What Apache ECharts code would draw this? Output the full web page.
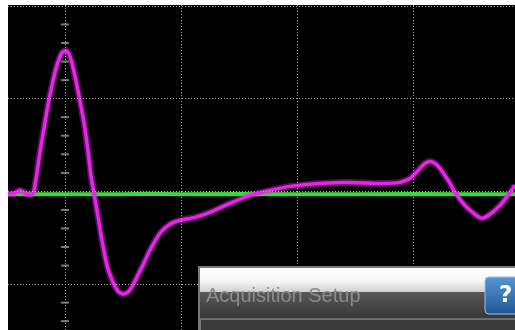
<!DOCTYPE html>
<html><head><meta charset="utf-8">
<script src="https://cdn.jsdelivr.net/npm/echarts@6/dist/echarts.min.js"></script>
<style>html,body{margin:0;padding:0;background:#000}#c{width:515px;height:330px}</style>
</head><body><div id="c"></div>
<script>
// time in divisions, voltage in divisions
const ch2Time = [-0.491,-0.440,-0.388,-0.336,-0.293,-0.267,-0.241,-0.216,-0.181,-0.147,-0.112,-0.078,-0.043,-0.017,0.009,0.034,0.060,0.095,0.129,0.164,0.198,0.224,0.250,0.276,0.319,0.362,0.414,0.457,0.500,0.543,0.586,0.629,0.672,0.733,0.819,0.905,0.991,1.121,1.250,1.422,1.595,1.767,1.940,2.198,2.457,2.716,2.888,2.974,3.060,3.103,3.147,3.190,3.233,3.319,3.362,3.448,3.534,3.595,3.664,3.750,3.819,3.879];
const ch2Volt = [-0.032,-0.022,0.011,-0.022,-0.043,0.011,0.204,0.419,0.677,0.925,1.140,1.323,1.452,1.505,1.516,1.484,1.387,1.194,0.978,0.742,0.441,0.172,-0.022,-0.204,-0.527,-0.796,-0.978,-1.075,-1.108,-1.086,-1.011,-0.903,-0.796,-0.634,-0.452,-0.355,-0.312,-0.280,-0.226,-0.129,-0.043,0.011,0.054,0.086,0.097,0.086,0.097,0.140,0.247,0.301,0.323,0.301,0.247,0.086,-0.011,-0.151,-0.247,-0.290,-0.247,-0.151,-0.043,0.065];
const ch1Time = [-0.491,0.5,0.7,1.0,1.5,2.0,2.5,3.0,3.5,3.879];
const ch1Volt = [-0.030,-0.030,-0.025,-0.030,-0.028,-0.030,-0.030,-0.028,-0.030,-0.030];
const gridX = [0,1,2,3];
const gridY = [-1,0,1,2];
const dialogTitle = 'Acquisition Setup';

const ch2 = ch2Time.map((t,i)=>[t,ch2Volt[i]]);
const ch1 = ch1Time.map((t,i)=>[t,ch1Volt[i]]);
const ticks = [];
for (let k=-7;k<=10;k++){ if(k%5!==0) ticks.push([0,k*0.2]); }

const chart = echarts.init(document.getElementById('c'));
const dot = {color:'#aaa',width:1,type:[1,2]};
const gridLines = gridX.map(v=>({xAxis:v})).concat(gridY.map(v=>({yAxis:v})));
chart.setOption({
  backgroundColor:'#000',
  animation:false,
  grid:{left:8,right:0,top:5,bottom:0},
  xAxis:{type:'value',min:-0.491,max:3.879,axisLine:{show:false},axisTick:{show:false},axisLabel:{show:false},splitLine:{show:false}},
  yAxis:{type:'value',min:-1.495,max:2.01,axisLine:{show:false},axisTick:{show:false},axisLabel:{show:false},splitLine:{show:false}},
  series:[
    {type:'scatter',data:ticks,symbol:'rect',symbolSize:[8,2],itemStyle:{color:'#9a9a9a'},silent:true,z:1,
     markLine:{silent:true,symbol:'none',label:{show:false},lineStyle:dot,data:gridLines,animation:false}},
    {type:'line',data:ch1,symbol:'none',lineStyle:{color:'#3cd83c',width:4},z:2},
    {type:'line',data:ch2,symbol:'none',smooth:0.2,lineStyle:{color:'#e030e0',width:7,opacity:0.35},z:3},
    {type:'line',data:ch2,symbol:'none',smooth:0.2,lineStyle:{color:'#e626e6',width:3.5},z:4}
  ],
  graphic:[
    {type:'rect',shape:{x:0,y:0,width:515,height:5},style:{fill:'#fff'},z:100},
    {type:'rect',shape:{x:0,y:0,width:8,height:330},style:{fill:'#fff'},z:100},
    {type:'rect',shape:{x:198,y:266,width:320,height:70},style:{fill:'#7a7a7a'},z:100},
    {type:'rect',shape:{x:200,y:268,width:318,height:24},style:{fill:new echarts.graphic.LinearGradient(0,0,0,1,[{offset:0,color:'#ffffff'},{offset:0.55,color:'#f6f6f6'},{offset:1,color:'#cfcfcf'}])},z:101},
    {type:'rect',shape:{x:200,y:292,width:318,height:26},style:{fill:new echarts.graphic.LinearGradient(0,0,0,1,[{offset:0,color:'#585858'},{offset:1,color:'#383838'}])},z:101},
    {type:'rect',shape:{x:200,y:318,width:318,height:1.5},style:{fill:'#6a6a6a'},z:101},
    {type:'rect',shape:{x:201,y:320,width:318,height:12},style:{fill:'#3a3a3a'},z:101},
    {type:'text',x:206,y:296,style:{text:dialogTitle,font:'20px "Liberation Sans", Arial, sans-serif',fill:'#8c8c8c',textVerticalAlign:'middle',shadowColor:'rgba(255,255,255,0.25)',shadowBlur:2},z:102},
    {type:'rect',shape:{x:485,y:277,width:36,height:37,r:4},style:{fill:new echarts.graphic.LinearGradient(0,0,0,1,[{offset:0,color:'#5a95d0'},{offset:0.5,color:'#3a78b8'},{offset:1,color:'#1f5590'}]),stroke:'#9cc0e4',lineWidth:1},z:102},
    {type:'text',x:499,y:296,style:{text:'?',font:'bold 23px "DejaVu Sans", sans-serif',fill:'#fff',textVerticalAlign:'middle'},z:103}
  ]
});
</script></body></html>
